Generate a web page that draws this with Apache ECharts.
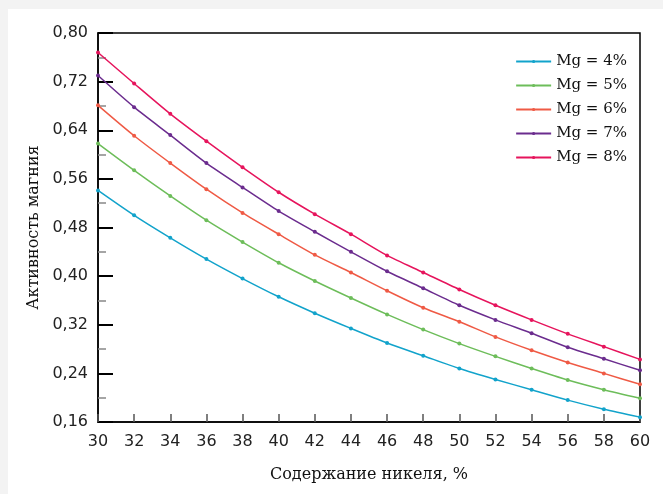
<!DOCTYPE html>
<html>
<head>
<meta charset="utf-8">
<script src="https://cdn.jsdelivr.net/npm/echarts@6/dist/echarts.min.js"></script>
<style>
html, body { margin: 0; padding: 0; background: #f3f3f3; }
#chart {
  position: absolute;
  left: 8px;
  top: 9px;
  width: 655px;
  height: 485px;
  background: #fff;
}
</style>
</head>
<body>
<div id="chart"></div>
<script>
// содержание никеля, %
var nickel = [30, 32, 34, 36, 38, 40, 42, 44, 46, 48, 50, 52, 54, 56, 58, 60];

// активность магния при разном содержании Mg
var mg4 = [0.541, 0.500, 0.463, 0.428, 0.396, 0.366, 0.339, 0.314, 0.290, 0.269, 0.248, 0.230, 0.213, 0.196, 0.181, 0.168];
var mg5 = [0.618, 0.574, 0.532, 0.492, 0.456, 0.422, 0.392, 0.364, 0.337, 0.312, 0.289, 0.268, 0.248, 0.229, 0.213, 0.199];
var mg6 = [0.681, 0.631, 0.586, 0.543, 0.504, 0.469, 0.435, 0.406, 0.376, 0.348, 0.325, 0.300, 0.278, 0.258, 0.240, 0.222];
var mg7 = [0.730, 0.678, 0.632, 0.586, 0.546, 0.507, 0.473, 0.440, 0.408, 0.380, 0.352, 0.328, 0.306, 0.283, 0.264, 0.245];
var mg8 = [0.768, 0.717, 0.667, 0.622, 0.579, 0.538, 0.502, 0.469, 0.434, 0.406, 0.378, 0.352, 0.328, 0.305, 0.284, 0.263];

var names = ["Mg = 4%", "Mg = 5%", "Mg = 6%", "Mg = 7%", "Mg = 8%"];
var colors = ["#12a3cb", "#6dbd5a", "#ef5a45", "#6b2c8e", "#e6145c"];

var chart = echarts.init(document.getElementById("chart"));

function pairs(values) {
  return values.map(function (v, i) { return [nickel[i], v]; });
}

var series = [mg4, mg5, mg6, mg7, mg8].map(function (values, i) {
  return {
    name: names[i],
    type: "line",
    data: pairs(values),
    smooth: 0.25,
    symbol: "circle",
    symbolSize: 4,
    showSymbol: true,
    lineStyle: { width: 1.5, color: colors[i] },
    itemStyle: { color: colors[i] }
  };
});

var option = {
  animation: false,
  color: colors,
  grid: {
    left: 90,
    right: 23,
    top: 24,
    bottom: 72,
    show: true,
    borderColor: "#000",
    borderWidth: 1.5
  },
  legend: {
    data: names,
    orient: "vertical",
    right: 31,
    top: 40,
    itemWidth: 35,
    itemHeight: 4,
    itemGap: 9,
    textStyle: {
      fontFamily: "DejaVu Serif",
      fontSize: 15,
      color: "#111"
    }
  },
  xAxis: {
    type: "value",
    min: 30,
    max: 60,
    interval: 2,
    name: "Содержание никеля, %",
    nameLocation: "middle",
    nameGap: 45,
    nameTextStyle: { fontFamily: "DejaVu Serif", fontSize: 16, color: "#111" },
    axisLine: { show: true, lineStyle: { color: "#000", width: 1.5 } },
    axisTick: { show: true, inside: true, length: 8, lineStyle: { color: "#555", width: 1.5 } },
    axisLabel: { fontFamily: "DejaVu Sans", fontSize: 16, color: "#222", margin: 12 },
    splitLine: { show: false }
  },
  yAxis: {
    type: "value",
    min: 0.16,
    max: 0.8,
    interval: 0.08,
    name: "Активность магния",
    nameLocation: "middle",
    nameGap: 52,
    nameTextStyle: { fontFamily: "DejaVu Serif", fontSize: 16, color: "#111" },
    axisLine: { show: true, lineStyle: { color: "#000", width: 1.5 } },
    axisTick: { show: true, inside: true, length: 15, lineStyle: { color: "#000", width: 2 } },
    minorTick: { show: true, splitNumber: 2, length: 8, lineStyle: { color: "#888", width: 1.5 } },
    axisLabel: {
      fontFamily: "DejaVu Sans",
      fontSize: 16,
      color: "#222",
      margin: 10,
      formatter: function (v) { return v.toFixed(2).replace(".", ","); }
    },
    splitLine: { show: false }
  },
  series: series
};

chart.setOption(option);
</script>
</body>
</html>
